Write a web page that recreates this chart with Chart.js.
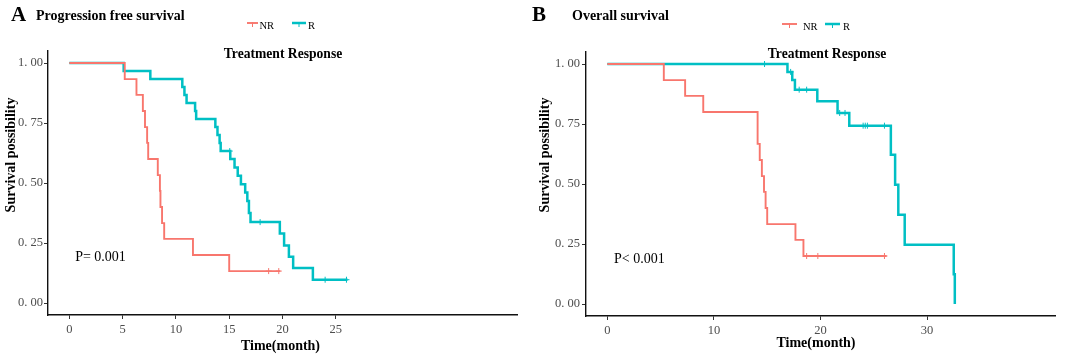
<!DOCTYPE html>
<html>
<head>
<meta charset="utf-8">
<script src="https://cdn.jsdelivr.net/npm/chart.js@4.4.1/dist/chart.umd.min.js"></script>
<style>
    html, body { margin: 0; padding: 0; background: #fff; }
    #wrap { position: relative; width: 1065px; height: 357px; overflow: hidden; }
    .panel { position: absolute; top: 0; }
</style>
</head>
<body>
<div id="wrap">
    <div class="panel" style="left:0"><canvas id="pfsChart" width="532" height="357"></canvas></div>
    <div class="panel" style="left:530px"><canvas id="osChart" width="535" height="357"></canvas></div>
</div>
<script>
// Panel A - progression free survival (KM steps: time of event, survival after it)
const pfsTimesNR  = [0, 5.2, 6.3, 6.9, 7.1, 7.3, 7.4, 8.3, 8.5, 8.55, 8.7, 8.9, 11.6, 15.0, 19.8];
const pfsSurvNR   = [1, 0.933, 0.867, 0.800, 0.733, 0.667, 0.600, 0.533, 0.467, 0.400, 0.333, 0.267, 0.200, 0.133, 0.133];
const pfsCensorNR = [18.7, 19.65];
const pfsTimesR   = [0, 5.1, 7.6, 10.6, 10.8, 11.0, 11.8, 11.9, 13.7, 13.9, 14.1, 14.2, 15.1, 15.5, 15.8, 16.1, 16.5, 16.7, 16.85, 17.0, 19.75, 20.15, 20.6, 21.0, 22.85, 26.1];
const pfsSurvR    = [1, 0.967, 0.933, 0.900, 0.867, 0.833, 0.800, 0.767, 0.733, 0.700, 0.667, 0.633, 0.600, 0.565, 0.530, 0.495, 0.460, 0.425, 0.375, 0.337, 0.290, 0.240, 0.193, 0.146, 0.097, 0.097];
const pfsCensorR  = [15.05, 17.9, 24.0, 26.0];
const pfsTicks    = [0, 5, 10, 15, 20, 25];

// Panel B - overall survival
const osTimesNR  = [0, 5.3, 7.3, 9.0, 14.1, 14.3, 14.5, 14.7, 14.85, 15.0, 17.65, 18.4, 26.2];
const osSurvNR   = [1, 0.933, 0.867, 0.800, 0.667, 0.600, 0.533, 0.467, 0.400, 0.333, 0.267, 0.200, 0.200];
const osCensorNR = [18.7, 19.75, 26.0];
const osTimesR   = [0, 16.9, 17.35, 17.6, 19.7, 21.6, 22.7, 26.6, 27.0, 27.3, 27.9, 32.5, 32.6];
const osSurvR    = [1, 0.967, 0.933, 0.893, 0.845, 0.796, 0.743, 0.622, 0.497, 0.372, 0.247, 0.124, 0];
const osCensorR  = [14.75, 17.2, 18.0, 18.7, 21.8, 22.3, 24.0, 24.2, 24.4, 26.0];
const osTicks    = [0, 10, 20, 30];

const survTicks = [0, 0.25, 0.5, 0.75, 1];

const RED = '#F8766D';
const CYAN = '#00BFC4';
const SERIF = '"Liberation Serif", "Times New Roman", serif';

function stepPoints(times, surv) {
    return times.map((t, i) => ({ x: t, y: surv[i] }));
}

// censor marks sit on the curve level at that time
function censorPoints(censors, times, surv) {
    return censors.map(c => {
        let v = surv[0];
        times.forEach((t, i) => { if (t <= c) v = surv[i]; });
        return { x: c, y: v };
    });
}

const panelText = {
    id: 'panelText',
    afterDraw(chart, args, o) {
        const ctx = chart.ctx;
        const xs = chart.scales.x, ys = chart.scales.y;
        ctx.save();
        ctx.fillStyle = '#000';
        ctx.textBaseline = 'alphabetic';
        ctx.textAlign = 'left';

        ctx.font = 'bold 21px ' + SERIF;
        ctx.fillText(o.letter, o.letterX, 20.5);
        ctx.font = 'bold 14px ' + SERIF;
        ctx.fillText(o.title, o.titleX, 20);

        // legend keys
        o.keys.forEach(k => {
            ctx.strokeStyle = k.color;
            ctx.lineWidth = k.width;
            ctx.beginPath();
            ctx.moveTo(k.x0, o.keyY);
            ctx.lineTo(k.x1, o.keyY);
            ctx.stroke();
            const cx = (k.x0 + k.x1) / 2;
            ctx.lineWidth = 1;
            ctx.beginPath();
            ctx.moveTo(cx, o.keyY - 1);
            ctx.lineTo(cx, o.keyY + 4);
            ctx.stroke();
            ctx.fillStyle = '#000';
            ctx.font = '10.5px ' + SERIF;
            ctx.fillText(k.label, k.textX, o.keyY + 6);
        });

        ctx.textAlign = 'center';
        ctx.font = 'bold 13.6px ' + SERIF;
        ctx.fillText('Treatment Response', o.headX, 57.5);

        ctx.font = 'bold 14px ' + SERIF;
        ctx.fillText('Time(month)', o.xTitleX, o.xTitleY);

        ctx.save();
        ctx.translate(o.yTitleX, 155);
        ctx.rotate(-Math.PI / 2);
        ctx.fillText('Survival possibility', 0, 0);
        ctx.restore();

        ctx.textAlign = 'left';
        ctx.font = '14px ' + SERIF;
        ctx.fillText(o.pText, xs.getPixelForValue(o.pAt[0]), ys.getPixelForValue(o.pAt[1]));
        ctx.restore();
    }
};

function makeChart(id, cfg) {
    return new Chart(document.getElementById(id), {
        type: 'line',
        data: {
            datasets: [
                { data: stepPoints(cfg.timesNR, cfg.survNR), borderColor: RED, borderWidth: 1.9, stepped: true, pointRadius: 0 },
                { data: stepPoints(cfg.timesR, cfg.survR), borderColor: CYAN, borderWidth: 2.5, stepped: true, pointRadius: 0 },
                { data: censorPoints(cfg.censorNR, cfg.timesNR, cfg.survNR), showLine: false, pointStyle: 'cross',
                  pointRadius: 3, pointBorderWidth: 1, pointBorderColor: RED, borderColor: RED },
                { data: censorPoints(cfg.censorR, cfg.timesR, cfg.survR), showLine: false, pointStyle: 'cross',
                  pointRadius: 3, pointBorderWidth: 1, pointBorderColor: CYAN, borderColor: CYAN }
            ]
        },
        options: {
            responsive: false,
            animation: false,
            devicePixelRatio: 1,
            layout: { padding: { top: cfg.top, right: cfg.right, left: 0, bottom: 0 } },
            plugins: { legend: { display: false }, tooltip: { enabled: false }, panelText: cfg.text },
            scales: {
                x: {
                    type: 'linear', min: -2, max: 42,
                    afterBuildTicks: s => { s.ticks = cfg.ticks.map(v => ({ value: v })); },
                    afterFit: s => { s.height = cfg.xHeight; },
                    grid: { drawOnChartArea: false, tickLength: 4, color: '#333', lineWidth: 1 },
                    border: { color: '#111', width: 1.4 },
                    ticks: { color: '#4d4d4d', padding: 3, maxRotation: 0, font: { family: SERIF, size: 12.5 } }
                },
                y: {
                    type: 'linear', min: -0.05, max: 1.05,
                    afterBuildTicks: s => { s.ticks = survTicks.map(v => ({ value: v })); },
                    afterFit: s => { s.width = cfg.yWidth; },
                    grid: { drawOnChartArea: false, tickLength: 4, color: '#333', lineWidth: 1 },
                    border: { color: '#111', width: 1.4 },
                    ticks: { color: '#4d4d4d', padding: cfg.yPad, font: { family: SERIF, size: 12.5 },
                             callback: v => v.toFixed(2).replace('.', '. ') }
                }
            }
        },
        plugins: [panelText]
    });
}

makeChart('pfsChart', {
    timesNR: pfsTimesNR, survNR: pfsSurvNR, censorNR: pfsCensorNR,
    timesR: pfsTimesR, survR: pfsSurvR, censorR: pfsCensorR,
    ticks: pfsTicks, top: 51, right: 15, yWidth: 48, xHeight: 42, yPad: 1,
    text: {
        letter: 'A', letterX: 11, title: 'Progression free survival', titleX: 36,
        keyY: 23,
        keys: [
            { x0: 247, x1: 258, color: RED, width: 1.9, label: 'NR', textX: 259.5 },
            { x0: 292, x1: 306, color: CYAN, width: 2.5, label: 'R', textX: 308 }
        ],
        headX: 283, xTitleX: 280.5, xTitleY: 350, yTitleX: 15,
        pText: 'P= 0.001', pAt: [0.55, 0.173]
    }
});

makeChart('osChart', {
    timesNR: osTimesNR, survNR: osSurvNR, censorNR: osCensorNR,
    timesR: osTimesR, survR: osSurvR, censorR: osCensorR,
    ticks: osTicks, top: 52, right: 10, yWidth: 56, xHeight: 41, yPad: 2,
    text: {
        letter: 'B', letterX: 2, title: 'Overall survival', titleX: 42,
        keyY: 24,
        keys: [
            { x0: 252, x1: 267, color: RED, width: 1.9, label: 'NR', textX: 273 },
            { x0: 295, x1: 310, color: CYAN, width: 2.5, label: 'R', textX: 313 }
        ],
        headX: 297, xTitleX: 286, xTitleY: 347, yTitleX: 19,
        pText: 'P< 0.001', pAt: [0.63, 0.171]
    }
});
</script>
</body>
</html>
